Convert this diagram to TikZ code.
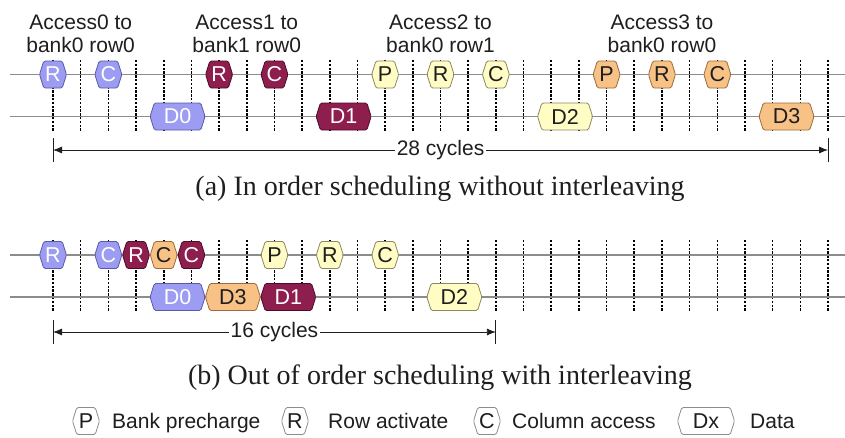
\documentclass[tikz,border=0pt]{standalone}
\usepackage{fontspec}
\setmainfont{Liberation Serif}
\setsansfont{Liberation Sans}
\usetikzlibrary{shapes.symbols,arrows.meta,calc}

\definecolor{lav}{HTML}{9C9CF2}
\definecolor{lavedge}{HTML}{5A5AA8}
\definecolor{wine}{HTML}{8E1E4E}
\definecolor{wineedge}{HTML}{4E0C28}
\definecolor{cream}{HTML}{FFFCC4}
\definecolor{creamedge}{HTML}{8A8862}
\definecolor{apricot}{HTML}{F8C286}
\definecolor{apricotedge}{HTML}{9A6C3C}
\definecolor{rail}{HTML}{8C8C8C}
\definecolor{ink}{HTML}{1E1E1E}

\tikzset{
  hexbox/.style={shape=signal, signal to=east and west, signal pointer angle=145,
    minimum height=27pt, minimum width=27pt, inner sep=0pt, line width=0.8pt,
    rounded corners=1.5pt, font=\sffamily\fontsize{21.5}{21.5}\selectfont},
  wide/.style={minimum width=55pt},
  opA/.style={hexbox, fill=lav, draw=lavedge, text=white},
  opB/.style={hexbox, fill=wine, draw=wineedge, text=white},
  opC/.style={hexbox, fill=cream, draw=creamedge, text=ink},
  opD/.style={hexbox, fill=apricot, draw=apricotedge, text=ink},
  key/.style={hexbox, fill=white, draw=rail, text=ink},
  railline/.style={draw=rail, line width=1.2pt},
  cycletick/.style={draw=black, line width=1.6pt, dash pattern=on 2.4pt off 1.4pt},
  span/.style={draw=ink, line width=0.8pt},
  spanarrow/.style={span, {Latex[length=9pt,width=7pt]}-{Latex[length=9pt,width=7pt]}},
  spanlabel/.style={fill=white, inner sep=1.5pt, text=ink, font=\sffamily\fontsize{21}{21}\selectfont},
  lbl/.style={font=\sffamily\fontsize{21}{23}\selectfont, text=ink, align=center, inner sep=0pt, anchor=north},
  keytext/.style={font=\sffamily\fontsize{21}{21}\selectfont, text=ink, inner sep=0pt, anchor=base west},
  captiontext/.style={font=\fontsize{28}{28}\selectfont, text=ink, inner sep=0pt, anchor=base},
}

% cycle k sits at x = 53 + 27.68 k
\newcommand{\cyc}[1]{53+27.68*#1}

\begin{document}
\begin{tikzpicture}[x=1pt,y=-1pt]
\useasboundingbox (0,0) rectangle (845,437);

% ---------- (a) in order ----------
\foreach \k in {0,...,28}
  \draw[cycletick] ({\cyc{\k}},60) -- ({\cyc{\k}},132);
\draw[railline] (10,74.5) -- (845,74.5);
\draw[railline] (10,116.5) -- (845,116.5);

\node[lbl] (h0) at ({\cyc{1}},15) {Access0 to\\bank0 row0};
\node[lbl] (h1) at ({\cyc{7}},15) {Access1 to\\bank1 row0};
\node[lbl] (h2) at ({\cyc{14}},15) {Access2 to\\bank0 row1};
\node[lbl] (h3) at ({\cyc{22}},15) {Access3 to\\bank0 row0};

\node[opA] (a0r) at ({\cyc{0}},74.5) {R};
\node[opA] (a0c) at ({\cyc{2}},74.5) {C};
\node[opB] (a1r) at ({\cyc{6}},74.5) {R};
\node[opB] (a1c) at ({\cyc{8}},74.5) {C};
\node[opC] (a2p) at ({\cyc{12}},74.5) {P};
\node[opC] (a2r) at ({\cyc{14}},74.5) {R};
\node[opC] (a2c) at ({\cyc{16}},74.5) {C};
\node[opD] (a3p) at ({\cyc{20}},74.5) {P};
\node[opD] (a3r) at ({\cyc{22}},74.5) {R};
\node[opD] (a3c) at ({\cyc{24}},74.5) {C};

\node[opA,wide] (a0d) at ({\cyc{4.5}},116.5) {D0};
\node[opB,wide] (a1d) at ({\cyc{10.5}},116.5) {D1};
\node[opC,wide] (a2d) at ({\cyc{18.5}},116.5) {D2};
\node[opD,wide] (a3d) at ({\cyc{26.5}},116.5) {D3};

\coordinate (aL) at ({\cyc{0}},150);
\coordinate (aR) at ({\cyc{28}},150);
\draw[span] ([yshift=-12pt]aL) -- ([yshift=12pt]aL);
\draw[span] ([yshift=-12pt]aR) -- ([yshift=12pt]aR);
\draw[spanarrow] (aL) -- (aR);
\node[spanlabel] (aN) at ($(aL)!0.5!(aR)$) {28 cycles};

\node[captiontext] (capA) at (440,195) {(a) In order scheduling without interleaving};

% ---------- (b) out of order ----------
\foreach \k in {0,...,28}
  \draw[cycletick] ({\cyc{\k}},240) -- ({\cyc{\k}},312);
\draw[railline] (10,255) -- (845,255);
\draw[railline] (10,297) -- (845,297);

\node[opA] (b0r) at ({\cyc{0}},255) {R};
\node[opA] (b0c) at ({\cyc{2}},255) {C};
\node[opB] (b1r) at ({\cyc{3}},255) {R};
\node[opD] (b3c) at ({\cyc{4}},255) {C};
\node[opB] (b1c) at ({\cyc{5}},255) {C};
\node[opC] (b2p) at ({\cyc{8}},255) {P};
\node[opC] (b2r) at ({\cyc{10}},255) {R};
\node[opC] (b2c) at ({\cyc{12}},255) {C};

\node[opA,wide] (b0d) at ({\cyc{4.5}},297) {D0};
\node[opD,wide] (b3d) at ({\cyc{6.5}},297) {D3};
\node[opB,wide] (b1d) at ({\cyc{8.5}},297) {D1};
\node[opC,wide] (b2d) at ({\cyc{14.5}},297) {D2};

\coordinate (bL) at ({\cyc{0}},332);
\coordinate (bR) at ({\cyc{16}},332);
\draw[span] ([yshift=-12pt]bL) -- ([yshift=12pt]bL);
\draw[span] ([yshift=-12pt]bR) -- ([yshift=12pt]bR);
\draw[spanarrow] (bL) -- (bR);
\node[spanlabel] (bN) at ($(bL)!0.5!(bR)$) {16 cycles};

\node[captiontext] (capB) at (440,384) {(b) Out of order scheduling with interleaving};

% ---------- key ----------
\node[key] (kP) at (86,421) {P};
\node[keytext] (tP) at (112,428) {Bank precharge};
\node[key] (kR) at (295,421) {R};
\node[keytext] (tR) at (328,428) {Row activate};
\node[key] (kC) at (487,421) {C};
\node[keytext] (tC) at (512,428) {Column access};
\node[key,minimum width=57pt] (kD) at (706,421) {Dx};
\node[keytext] (tD) at (750,428) {Data};
\end{tikzpicture}
\end{document}
